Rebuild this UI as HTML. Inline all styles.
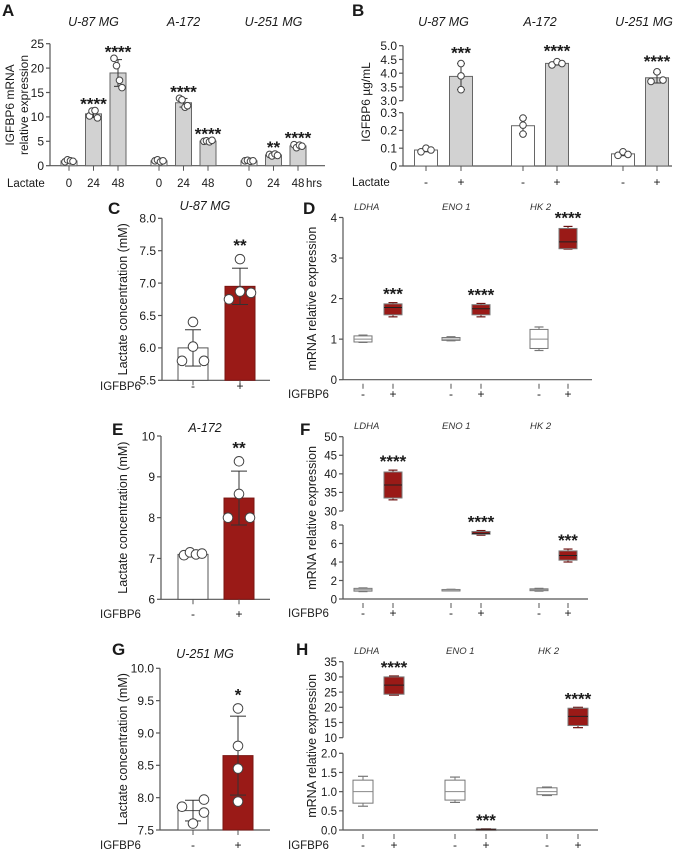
<!DOCTYPE html>
<html><head><meta charset="utf-8"><style>
html,body{margin:0;padding:0;background:#fff;width:678px;height:853px;overflow:hidden}
svg{display:block;font-family:"Liberation Sans",Arial,sans-serif}
</style></head><body>
<svg id="fig" width="678" height="853" viewBox="0 0 678 853" xmlns="http://www.w3.org/2000/svg">
<g font-size="12" text-anchor="end" fill="#1a1a1a">
<text x="397" y="170.3">0</text>
<text x="397" y="152.5">0.1</text>
<text x="397" y="134.7">0.2</text>
<text x="397" y="117">0.3</text>
<line x1="399" x2="403" y1="166" y2="166" stroke="#555" stroke-width="1.2"/>
<line x1="399" x2="403" y1="148.2" y2="148.2" stroke="#555" stroke-width="1.2"/>
<line x1="399" x2="403" y1="130.4" y2="130.4" stroke="#555" stroke-width="1.2"/>
<line x1="399" x2="403" y1="112.7" y2="112.7" stroke="#555" stroke-width="1.2"/>
</g>
</svg>
<script>
// ---------- DATA ----------
const aCells = ["U-87 MG","A-172","U-251 MG"];
const aTimes = ["0","24","48"];
const aPoints = [
  [[0.8,1.2,1.0,0.9],[10.2,11.2,11.3,9.8],[22,20.5,17.5,16]],
  [[1.0,1.2,0.8,1.0],[13.8,13.5,12.0,12.3],[5.0,5.1,4.9,5.2]],
  [[1.0,1.1,0.9,1.0],[2.3,2.0,2.4,2.1],[4.3,3.7,4.2,4.0]]
];
const aStars = [["","****","****"],["","****","****"],["","**","****"]];
const aTicks = [0,5,10,15,20,25];
const aTickLabels = ["0","5","10","15","20","25"];
const bCells = ["U-87 MG","A-172","U-251 MG"];
const bTreat = ["-","+"];
const bPoints = [
  [[0.08,0.10,0.09],[4.35,3.9,3.4]],
  [[0.27,0.23,0.18],[4.3,4.42,4.35]],
  [[0.06,0.08,0.065],[4.05,3.7,3.75]]
];
const bStars = [["","***"],["","****"],["","****"]];
const bTicksHigh = [3.0,3.5,4.0,4.5,5.0];
const bTickLabelsHigh = ["3.0","3.5","4.0","4.5","5.0"];
const cTreat = ["-","+"];
const cMeans = [6.0,6.95];
const cErr = [0.28,0.28];
const cPoints = [[6.4,6.02,5.8,5.8],[7.37,6.87,6.75,6.85]];
const cStars = ["","**"];
const cTicks = [5.5,6.0,6.5,7.0,7.5,8.0];
const cTickLabels = ["5.5","6.0","6.5","7.0","7.5","8.0"];
const eMeans = [7.1,8.48];
const eErr = [0.05,0.66];
const ePoints = [[7.08,7.15,7.1,7.12],[9.38,8.58,8.0,8.0]];
const eStars = ["","**"];
const eTicks = [6,7,8,9,10];
const eTickLabels = ["6","7","8","9","10"];
const gMeans = [7.8,8.65];
const gErr = [0.16,0.61];
const gPoints = [[7.86,7.97,7.77,7.6],[9.38,8.8,8.45,7.94]];
const gStars = ["","*"];
const gTicks = [7.5,8.0,8.5,9.0,9.5,10.0];
const gTickLabels = ["7.5","8.0","8.5","9.0","9.5","10.0"];
const genes = ["LDHA","ENO 1","HK 2"];
const dBoxes = [[0.92,0.93,1.0,1.08,1.1],[1.55,1.6,1.78,1.87,1.9],[0.96,0.97,1.0,1.04,1.06],[1.55,1.6,1.75,1.85,1.88],[0.72,0.77,1.0,1.24,1.3],[3.22,3.23,3.4,3.73,3.78]];
const dStars = ["","***","","****","","****"];
const dTicks = [0,1,2,3,4];
const dTickLabels = ["0","1","2","3","4"];
const fBoxes = [[0.8,0.85,1.0,1.15,1.2],[33,33.5,37,40.5,41],[0.95,0.97,1.0,1.03,1.05],[6.9,7.0,7.1,7.3,7.4],[0.85,0.9,1.0,1.1,1.15],[4.0,4.2,4.7,5.2,5.4]];
const fStars = ["","****","","****","","***"];
const fTicksLow = [0,2,4,6,8];
const fTickLabelsLow = ["0","2","4","6","8"];
const fTicksHigh = [30,35,40,45,50];
const fTickLabelsHigh = ["30","35","40","45","50"];
const hBoxes = [[0.62,0.7,1.0,1.3,1.4],[24,24.3,27.3,30,30.3],[0.72,0.78,1.0,1.3,1.38],[0.01,0.015,0.02,0.025,0.03],[0.9,0.92,1.0,1.1,1.12],[13.3,14,17,19.7,20]];
const hStars = ["","****","","***","","****"];
const hTicksLow = [0,0.5,1.0,1.5,2.0];
const hTickLabelsLow = ["0.0","0.5","1.0","1.5","2.0"];
const hTicksHigh = [10,15,20,25,30,35];
const hTickLabelsHigh = ["10","15","20","25","30","35"];

// ---------- HELPERS ----------
const svg = document.getElementById('fig');
const NS = 'http://www.w3.org/2000/svg';
function el(tag, attrs, parent){
  const e = document.createElementNS(NS, tag);
  for (const k in attrs) e.setAttribute(k, attrs[k]);
  (parent||svg).appendChild(e);
  return e;
}
function txt(s, x, y, size, anchor, parent, extra){
  const t = el('text', {x:x, y:y, 'font-size':size, 'text-anchor':anchor||'middle', fill:'#1a1a1a'}, parent);
  if (extra) for (const k in extra) t.setAttribute(k, extra[k]);
  t.textContent = s;
  return t;
}
function mkScale(segs){
  return function(v){
    for (let k=0;k<segs.length;k++){const s=segs[k]; if (v >= s[0]-1e-9 && v <= s[1]+1e-9) return s[2] + (v-s[0])*(s[3]-s[2])/(s[1]-s[0]);}
    let best = segs[0];
    for (let k=0;k<segs.length;k++) if (v > segs[k][1]) best = segs[k];
    const c = Math.max(best[0], Math.min(best[1], v));
    return best[2] + (c-best[0])*(best[3]-best[2])/(best[1]-best[0]);
  };
}
function sd(a){const m=a.reduce((p,c)=>p+c,0)/a.length;return Math.sqrt(a.reduce((p,c)=>p+(c-m)*(c-m),0)/(a.length-1));}
function mean(a){return a.reduce((p,c)=>p+c,0)/a.length;}

function drawAxis(g, ax, segs, tickSets, labelSets, xEnd, xAxisY, fontSize){
  const axc = '#555';
  segs.forEach(s=>{
    const ln = el('line',{x1:ax,x2:ax,y1:s[2],y2:s[3],stroke:axc,'stroke-width':1.2},g);
    
    
  });
  const y = mkScale(segs);
  for (let i=0;i<tickSets.length;i++){
    const ts = tickSets[i], ls = labelSets[i];
    for (let j=0;j<ts.length;j++){
      const py = y(ts[j]);
      el('line',{x1:ax-4,x2:ax,y1:py,y2:py,stroke:axc,'stroke-width':1.2},g);
      const t = txt(ls[j], ax-6, py+4.3, fontSize||12, 'end', g);
      
      
    }
  }
  const xl = el('line',{x1:ax,x2:xEnd,y1:xAxisY,y2:xAxisY,stroke:axc,'stroke-width':1.2},g);
  
  
  return y;
}
function vtitle(s, x, y, size, g){
  const t = txt(s, x, y, size, 'middle', g, {transform:'rotate(-90 '+x+' '+y+')'});
  
  
  return t;
}
function letter(s,x,y){
  const t = txt(s,x,y,17,'start',svg,{'font-weight':'bold'});
  
  
}
function star(s,x,yTop,g){
  if(!s) return;
  const t = txt(s,x,yTop+4,17,'middle',g,{'font-weight':'bold'});
  
  
}
function dot(x,y,r,g){
  const c = el('circle',{cx:x,cy:y,r:r,fill:'#fff',stroke:'#444','stroke-width':1},g);
  
  
}
function errBar(x,y1,y2,cap,g,color){
  el('line',{x1:x,x2:x,y1:y1,y2:y2,stroke:color||'#333','stroke-width':1},g);
  el('line',{x1:x-cap,x2:x+cap,y1:y1,y2:y1,stroke:color||'#333','stroke-width':1},g);
  el('line',{x1:x-cap,x2:x+cap,y1:y2,y2:y2,stroke:color||'#333','stroke-width':1},g);
}
const jit4 = [-4,-1.5,1.5,4];

// ---------- PANEL A ----------
(function(){
  const g = el('g',{});
  
  
  letter('A',2,16);
  const ax=50, y0=165.7;
  const y = drawAxis(g, ax, [[0,25,165.7,43.7]], [aTicks], [aTickLabels], 325, y0);
  vtitle('IGFBP6 mRNA',14,105,12,g);
  vtitle('relative expression',28,105,12,g);
  const starts=[69,159,249], step=24.5, bw=16;
  txt('Lactate',7,187,11.5,'start',g);
  aCells.forEach((c,ci)=>{
    const t = txt(c, starts[ci]+step, 26, 12.5,'middle',g,{'font-style':'italic'});
    
    
    aPoints[ci].forEach((pts,ti)=>{
      const cx = starts[ci]+ti*step;
      const m = mean(pts), s = sd(pts);
      const b = el('rect',{x:cx-bw/2,y:y(m),width:bw,height:y0-y(m),fill:ti===0?'#fff':'#d2d2d2',stroke:'#666','stroke-width':1},g);
      
      
      errBar(cx,y(m+s),y(m-s),4,g);
      pts.forEach((p,pi)=>dot(cx+jit4[pi],y(p),3.3,g));
      el('line',{x1:cx,x2:cx,y1:y0,y2:y0+5,stroke:'#555'},g);
      const tl = txt(aTimes[ti],cx,187,11.5,'middle',g);
      
      
      star(aStars[ci][ti],cx,y(Math.max(...pts))-5,g);
    });
  });
  txt('hrs',306,187,11.5,'start',g);
})();

// ---------- PANEL B ----------
const bJit = [[[-5,0,5],[0,0,0]],[[0,0,0],[-5,0,5]],[[-5,0,5],[0,-6,6]]];
(function(){
  const g = el('g',{});
  
  
  letter('B',352,16);
  const ax=403, y0=166;
  const y = drawAxis(g, ax, [[0,0.3,166,112.7],[3,5,100.7,45.7]], [bTicksHigh], [bTickLabelsHigh], 672, y0);
  vtitle('IGFBP6 µg/mL',370,102,12,g);
  const centers=[[426,461],[523,557],[623,657]], bw=23;
  txt('Lactate',352,186,11.5,'start',g);
  bCells.forEach((c,ci)=>{
    const t = txt(c,(centers[ci][0]+centers[ci][1])/2+(ci===2?4:0),26,12.5,'middle',g,{'font-style':'italic'});
    
    
    bPoints[ci].forEach((pts,ti)=>{
      const cx=centers[ci][ti];
      const m=mean(pts), s=sd(pts);
      const b = el('rect',{x:cx-bw/2,y:y(m),width:bw,height:y0-y(m),fill:ti===0?'#fff':'#d2d2d2',stroke:'#666','stroke-width':1},g);
      
      
      errBar(cx,y(m+s),y(m-s),4,g);
      pts.forEach((p,pi)=>dot(cx+bJit[ci][ti][pi],y(p),3.3,g));
      el('line',{x1:cx,x2:cx,y1:y0,y2:y0+5,stroke:'#555'},g);
      const tl = txt(bTreat[ti],cx,186,12,'middle',g);
      
      
      star(bStars[ci][ti],cx,y(Math.max(...pts))-9,g);
    });
  });
})();

// ---------- PANELS C / E / G ----------
function lactPanel(name, L, title, lx, ly, ax, segs, ticks, labels, centers, xEnd, rowY, titleY, means, errs, pts, stars, jit){
  const g = el('g',{});
  
  
  letter(L,lx,ly);
  const y0 = segs[0][2];
  const y = drawAxis(g, ax, segs, [ticks], [labels], xEnd, y0);
  vtitle('Lactate concentration (mM)',127,(segs[0][2]+segs[0][3])/2,12.5,g);
  const tt = txt(title,205,titleY,12.5,'middle',g,{'font-style':'italic'});
  
  
  const rl = txt('IGFBP6',100,rowY,11.5,'start',g);
  
  
  const bw=30;
  means.forEach((m,i)=>{
    const cx=centers[i];
    const b = el('rect',{x:cx-bw/2,y:y(m),width:bw,height:y0-y(m),fill:i===0?'#fff':'#9a1a17',stroke:i===0?'#555':'#7a1512','stroke-width':1},g);
    
    
    errBar(cx,y(m+errs[i]),y(m-errs[i]),8,g,'#333');
    pts[i].forEach((p,pi)=>dot(cx+jit[i][pi],y(p),4.8,g));
    el('line',{x1:cx,x2:cx,y1:y0,y2:y0+5,stroke:'#555'},g);
    const tl = txt(cTreat[i],cx,rowY,12,'middle',g);
    
    
    star(stars[i],cx,Math.min(y(Math.max(...pts[i])),y(m+errs[i]))-12,g);
  });
}
lactPanel('panel-c-chart','C','U-87 MG',108,214,162,[[5.5,8,380.3,218.3]],cTicks,cTickLabels,[193,240],270,390,210,cMeans,cErr,cPoints,cStars,[[0,0,-11,11],[0,0,-11,11]]);
lactPanel('panel-e-chart','E','A-172',112,435,161,[[6,10,599.3,436]],eTicks,eTickLabels,[193,239],270,618,432,eMeans,eErr,ePoints,eStars,[[-9,-3,3,9],[0,0,-11,11]]);
lactPanel('panel-g-chart','G','U-251 MG',112,655,160,[[7.5,10,830,668.3]],gTicks,gTickLabels,[193,238],270,849,658,gMeans,gErr,gPoints,gStars,[[-11,11,11,0],[0,0,0,0]]);

// ---------- PANELS D / F / H ----------
function boxPanel(name, L, lx, ly, segs, tickSets, labelSets, centers, bw, xEnd, rowY, geneY, boxes, stars){
  const g = el('g',{});
  
  
  letter(L,lx,ly);
  const ax=343, y0=segs[0][2];
  const y = drawAxis(g, ax, segs, tickSets, labelSets, xEnd, y0, 11.5);
  vtitle('mRNA relative expression',316,(segs[0][2]+segs[segs.length-1][3])/2,12.5,g);
  const rl = txt('IGFBP6',288,rowY,11.5,'start',g);
  
  
  genes.forEach((gn,i)=>{
    const t = txt(gn,centers[2*i]-9,geneY,9.5,'start',g,{'font-style':'italic',fill:'#333'});
    
    
  });
  boxes.forEach((b,i)=>{
    const cx=centers[i], red=i%2===1;
    const col = red?'#6b1210':'#777';
    el('line',{x1:cx,x2:cx,y1:y(b[0]),y2:y(b[4]),stroke:col,'stroke-width':1},g);
    el('line',{x1:cx-bw/4,x2:cx+bw/4,y1:y(b[0]),y2:y(b[0]),stroke:col,'stroke-width':1.2},g);
    el('line',{x1:cx-bw/4,x2:cx+bw/4,y1:y(b[4]),y2:y(b[4]),stroke:col,'stroke-width':1.2},g);
    const h = Math.max(1.5, y(b[1])-y(b[3]));
    const r = el('rect',{x:cx-bw/2,y:y(b[3]),width:bw,height:h,fill:red?'#9a1a17':'#fff',stroke:red?'#7a7a7a':'#777','stroke-width':1},g);
    
    
    el('line',{x1:cx-bw/2,x2:cx+bw/2,y1:y(b[2]),y2:y(b[2]),stroke:red?'#222':'#888','stroke-width':1},g);
    el('line',{x1:cx,x2:cx,y1:y0+4,y2:y0+9,stroke:'#555'},g);
    const tl = txt(red?'+':'-',cx,rowY,12,'middle',g);
    
    
    star(stars[i],cx,y(b[4])-7,g);
  });
}
boxPanel('panel-d-chart','D',303,214,[[0,4,379.7,217.5]],[dTicks],[dTickLabels],[363,393,451,481,539,568],18,592,398,210,dBoxes,dStars);
boxPanel('panel-f-chart','F',300,435,[[0,8,599,525],[30,50,511,436.7]],[fTicksLow,fTicksHigh],[fTickLabelsLow,fTickLabelsHigh],[363,393,451,481,539,568],18,588,617,429,fBoxes,fStars);
boxPanel('panel-h-chart','H',296,655,[[0,2,830,753.3],[10,35,737.7,661.7]],[hTicksLow,hTicksHigh],[hTickLabelsLow,hTickLabelsHigh],[363,394,455,486,547,578],20,598,849,654,hBoxes,hStars);
</script>
</body></html>
